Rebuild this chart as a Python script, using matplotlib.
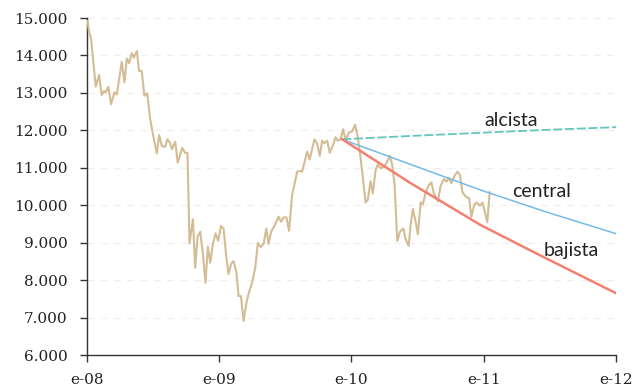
import matplotlib
matplotlib.use("Agg")
import matplotlib.pyplot as plt
import numpy as np

# price series: time in years, index level
t = [2008.005, 2008.015, 2008.030, 2008.048, 2008.066, 2008.091, 2008.111, 2008.129,
     2008.142, 2008.161, 2008.182, 2008.207, 2008.225, 2008.263, 2008.283, 2008.301,
     2008.318, 2008.339, 2008.354, 2008.377, 2008.394, 2008.414, 2008.434, 2008.455,
     2008.477, 2008.502, 2008.528, 2008.545, 2008.566, 2008.591, 2008.608, 2008.629,
     2008.642, 2008.667, 2008.686, 2008.720, 2008.742, 2008.760, 2008.775, 2008.801,
     2008.818, 2008.836, 2008.856, 2008.876, 2008.896, 2008.914, 2008.932, 2008.952,
     2008.972, 2008.992, 2009.013, 2009.033, 2009.053, 2009.070, 2009.091, 2009.108,
     2009.129, 2009.146, 2009.164, 2009.184, 2009.205, 2009.222, 2009.248, 2009.273,
     2009.292, 2009.314, 2009.336, 2009.356, 2009.373, 2009.392, 2009.417, 2009.449,
     2009.467, 2009.487, 2009.508, 2009.528, 2009.551, 2009.589, 2009.608, 2009.627,
     2009.664, 2009.684, 2009.720, 2009.740, 2009.760, 2009.778, 2009.795, 2009.816,
     2009.836, 2009.861, 2009.879, 2009.896, 2009.917, 2009.936, 2009.955, 2009.980,
     2010.005, 2010.027, 2010.045, 2010.064, 2010.081, 2010.106, 2010.123, 2010.144,
     2010.161, 2010.182, 2010.199, 2010.220, 2010.245, 2010.270, 2010.290, 2010.308,
     2010.326, 2010.346, 2010.366, 2010.392, 2010.409, 2010.432, 2010.447, 2010.464,
     2010.485, 2010.502, 2010.523, 2010.540, 2010.561, 2010.586, 2010.604, 2010.623,
     2010.654, 2010.674, 2010.699, 2010.720, 2010.737, 2010.755, 2010.780, 2010.801,
     2010.820, 2010.839, 2010.864, 2010.889, 2010.907, 2010.927, 2010.947, 2010.972,
     2010.990, 2011.008, 2011.027, 2011.045]
precio = [14920, 14630, 14470, 13830, 13165, 13480, 12940, 13050,
          13015, 13165, 12700, 13015, 12960, 13830, 13280, 13920,
          13790, 14060, 13940, 14120, 13585, 13585, 12925, 12990,
          12320, 11830, 11385, 11875, 11580, 11560, 11760, 11655,
          11495, 11700, 11140, 11530, 11400, 11400, 8980, 9625,
          8330, 9160, 9290, 8715, 7930, 8890, 8465, 8965,
          9250, 9050, 9445, 9380, 8625, 8160, 8445, 8510,
          8225, 7575, 7575, 6905, 7380, 7645, 7930, 8355,
          8995, 8880, 8980, 9380, 8965, 9290, 9445, 9695,
          9560, 9675, 9675, 9320, 10270, 10895, 10920, 10895,
          11430, 11225, 11760, 11655, 11315, 11725, 11655, 11725,
          11400, 11610, 11815, 11725, 11760, 12030, 11740, 11940,
          11975, 12150, 11875, 11400, 10895, 10075, 10140, 10645,
          10315, 10940, 11090, 10985, 11030, 11160, 11320, 11075,
          10540, 9045, 9290, 9380, 9095, 8915, 9470, 9900,
          9560, 9225, 10075, 10025, 10345, 10540, 10610, 10315,
          10110, 10520, 10700, 10630, 10735, 10585, 10790, 10895,
          10805, 10345, 10230, 10185, 9695, 10005, 10075, 9985,
          10075, 9825, 9540, 10350]

# scenario paths read at a few dates
esc_t = [2009.93, 2010.447, 2010.977, 2011.455, 2012.0]
alcista = [11760, 11850, 11935, 12010, 12085]
central = [11760, 11090, 10405, 9840, 9240]
bajista = [11760, 10590, 9470, 8610, 7650]

xticks = [2008, 2009, 2010, 2011, 2012]
xlabels = ["e-08", "e-09", "e-10", "e-11", "e-12"]
yticks = list(range(6000, 15001, 1000))

fig = plt.figure(figsize=(6.44, 3.89), dpi=100)
ax = fig.add_axes([0.1351, 0.0874, 0.8214, 0.8663])

ax.plot(t, precio, color="#d4bc94", lw=1.5, zorder=3)
ax.plot(esc_t, alcista, color="#62c6bd", lw=1.3, ls=(0, (5, 1.5)), zorder=4)
ax.plot(esc_t, central, color="#74bbe8", lw=1.1, zorder=4)
ax.plot(esc_t, bajista, color="#f4806f", lw=1.8, zorder=4)

lab = dict(fontsize=14, family="Lato", color="#222222", ha="center", va="center")
ax.text(2011.21, 12260, "alcista", **lab)
ax.text(2011.436, 10360, "central", **lab)
ax.text(2011.66, 8790, "bajista", **lab)

ax.set_xlim(2008, 2012)
ax.set_ylim(6000, 15000)
ax.set_xticks(xticks)
ax.set_xticklabels(xlabels)
ax.set_yticks(yticks)
ax.set_yticklabels([f"{v:,}".replace(",", ".") for v in yticks])

for y in yticks[1:]:
    ax.axhline(y, color="#eeeeee", lw=0.8, ls=(0, (6, 6)), zorder=1)

for s in ["top", "right"]:
    ax.spines[s].set_visible(False)
for s in ["left", "bottom"]:
    ax.spines[s].set_color("#333333")
    ax.spines[s].set_linewidth(1.0)
ax.tick_params(axis="both", colors="#333333", length=5, width=1.0,
               labelsize=11, labelcolor="#222222")
ax.tick_params(axis="y", pad=9)
ax.tick_params(axis="x", pad=8)
for lbl in ax.get_xticklabels() + ax.get_yticklabels():
    lbl.set_family("DejaVu Serif")

fig.savefig("out.png", dpi=100)
